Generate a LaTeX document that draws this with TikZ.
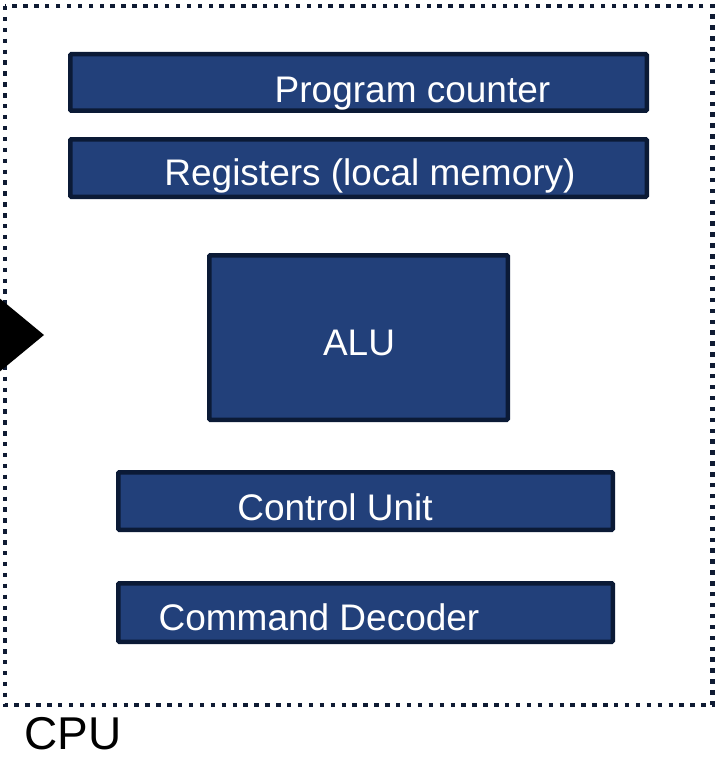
\documentclass[tikz,border=0pt]{standalone}
\usepackage{fontspec}
\setmainfont{Liberation Sans}
\definecolor{unitfill}{HTML}{22407A}
\definecolor{unitedge}{HTML}{0B1A36}
\definecolor{frameedge}{HTML}{0F1B33}
\tikzset{
  unit/.style={draw=unitedge, fill=unitfill, line width=4.5pt, inner sep=0pt, rounded corners=1pt},
  unitlabel/.style={anchor=base, inner sep=0pt, text=white, font=\fontsize{37}{40}\selectfont},
  cpuframe/.style={draw=frameedge, line width=4.6pt, dash pattern=on 4.4pt off 6.5pt},
}
\begin{document}
\begin{tikzpicture}[x=1pt, y=-1pt]
  \useasboundingbox (0,0) rectangle (717,757);
  % dotted CPU boundary
  \draw[cpuframe] (5,6) rectangle (712.5,705);
  % functional units
  \node[unit, minimum width=576.5pt, minimum height=56.5pt] (pc)  at (358.5,82.5) {};
  \node[unit, minimum width=576.5pt, minimum height=57.5pt] (reg) at (358.5,168) {};
  \node[unit, minimum width=298.5pt, minimum height=164.5pt] (alu) at (358.5,337.5) {};
  \node[unit, minimum width=494.5pt, minimum height=57.5pt] (cu)  at (365.5,501) {};
  \node[unit, minimum width=494.5pt, minimum height=58.5pt] (dec) at (365.5,612.5) {};
  % unit labels
  \node[unitlabel] (pctext)  at (412.5,102.7) {Program counter};
  \node[unitlabel] (regtext) at (370,185) {Registers (local memory)};
  \node[unitlabel] (alutext) at (359,355) {ALU};
  \node[unitlabel] (cutext)  at (335,520) {Control Unit};
  \node[unitlabel] (dectext) at (319,630) {Command Decoder};
  % caption
  \node[anchor=base, inner sep=0pt, font=\fontsize{46}{50}\selectfont] (cpu) at (73,749) {CPU};
  % input arrow head entering the CPU
  \coordinate (intip) at (44,335);
  \fill[black] (-2,297) -- (intip) -- (-2,373) -- cycle;
\end{tikzpicture}
\end{document}
